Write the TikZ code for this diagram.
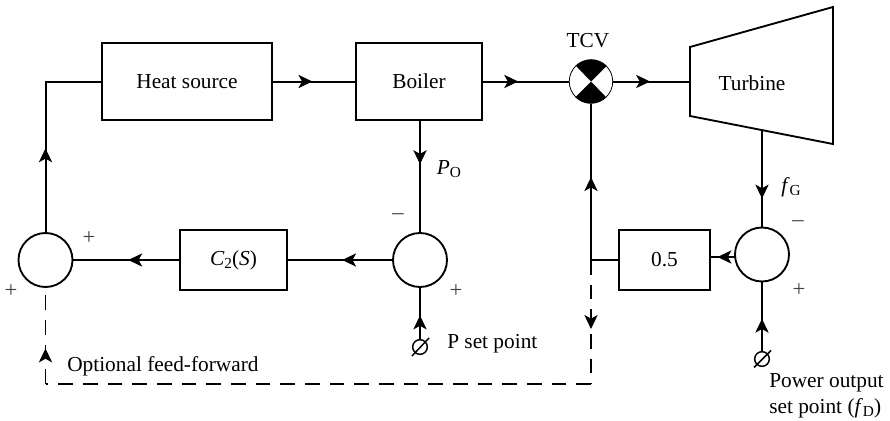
\documentclass[tikz,border=0pt]{standalone}
\usepackage{fontspec}
\setmainfont{Liberation Serif}
\usetikzlibrary{arrows.meta,decorations.markings}
\newcommand{\lowsub}[1]{\raisebox{-2.2pt}{\fontsize{11.5}{12}\selectfont #1}}
\tikzset{
  x=0.75pt,y=-0.75pt,
  every node/.style={font=\fontsize{16}{18}\selectfont},
  blockbox/.style={draw,line width=1.4pt,inner sep=0pt,anchor=center},
  sumcircle/.style={draw,circle,line width=1.4pt,minimum size=40.5pt,inner sep=0pt},
  wire/.style={line width=1.5pt},
  dashwire/.style={line width=1.4pt,dash pattern=on 11pt off 7.5pt},
  tipat/.style={postaction={decorate},decoration={markings,mark=at position #1 with {\arrow[line width=0.8pt]{Stealth[length=10.5pt,width=10pt,inset=2.8pt]}}}},
  signmark/.style={text=black!75,font=\fontsize{17}{18}\selectfont},
  setmark/.style={draw,circle,line width=1.1pt,minimum size=11pt,inner sep=0pt}
}
\begin{document}
\begin{tikzpicture}
\useasboundingbox (0,0) rectangle (890,421);
% blocks
\node[blockbox,minimum width=127.5pt,minimum height=57.5pt] (heat) at (187,81.5) {Heat source};
\node[blockbox,minimum width=94.5pt,minimum height=57.5pt] (boiler) at (419,81.5) {Boiler};
\node[blockbox,minimum width=80.5pt,minimum height=44.5pt] (c2) at (233.5,260) {\textit{C}\lowsub{2}(\textit{S})};
\node[blockbox,minimum width=68.5pt,minimum height=44.5pt] (gain) at (664.5,260) {0.5};
% summing junctions
\node[sumcircle] (sumL) at (45.5,260) {};
\node[sumcircle] (sumM) at (420,260) {};
\node[sumcircle] (sumR) at (762,254.5) {};
% valve
\node[draw,circle,line width=0.6pt,minimum size=32.6pt,inner sep=0pt] (tcv) at (591,81.5) {};
\fill (tcv.center) -- (tcv.45) arc[start angle=45,end angle=135,radius=16.3pt] -- cycle;
\fill (tcv.center) -- (tcv.225) arc[start angle=225,end angle=315,radius=16.3pt] -- cycle;
\node (tcvlabel) at (588,41) {TCV};
% turbine
\coordinate (tTL) at (690,47);
\coordinate (tBL) at (690,116);
\coordinate (tTR) at (833,7);
\coordinate (tBR) at (833,144);
\draw[line width=1.4pt,line join=miter] (tTL) -- (tTR) -- (tBR) -- (tBL) -- cycle;
\node (turbine) at (752,83) {Turbine};
\coordinate (turbIn) at (690,81.5);
\coordinate (turbOut) at (762,130);
% corners and junctions
\coordinate (heatCorner) at (45.5,81.5);
\coordinate (split) at (591,260);
\coordinate (dashR) at (591,384);
\coordinate (dashL) at (45.5,384);
\coordinate (gainIn) at (710,257);
\coordinate (sumOut) at (735,257);
% set points
\node[setmark] (spM) at (420,347) {};
\draw[line width=1.1pt] (412,356) -- (429,338);
\node[setmark] (spR) at (762,359) {};
\draw[line width=1.1pt] (754,367.5) -- (771,350.5);
% solid connectors
\draw[wire,tipat=0.48] (heat.east) -- (boiler.west);
\draw[wire,tipat=0.41] (boiler.east) -- (tcv.west);
\draw[wire,tipat=0.48] (tcv.east) -- (turbIn);
\draw[wire,tipat=0.39] (sumM.north |- boiler.south) -- (sumM.north);
\draw[wire,tipat=0.48] (sumM.west) -- (c2.east);
\draw[wire,tipat=0.48] (c2.west) -- (sumL.east);
\draw[wire,tipat=0.556] (sumL.north) -- (heatCorner);
\draw[wire,line cap=rect] (heatCorner) -- (heat.west);
\draw[wire,tipat=0.53] (split) -- (tcv.south);
\draw[wire] (gain.west) -- (split);
\draw[wire,tipat=0.71] (turbOut) -- (sumR.north);
\draw[wire,tipat=0.7] (sumOut) -- (gainIn);
\draw[wire,tipat=0.46] (spM.north) -- (sumM.south);
\draw[wire,tipat=0.47] (spR.north) -- (sumR.south);
% dashed connectors
\draw[dashwire,tipat=0.556] (split) -- (dashR);
\draw[dashwire] (dashR) -- (dashL);
\draw[dashwire,tipat=0.37] (dashL) -- (sumL.south);
% labels
\node (po) at (449,169) {\textit{P}\lowsub{O}};
\node (fg) at (791,187) {\textit{f}\lowsub{G}};
\node[anchor=west,inner sep=0pt] (opt) at (67,366) {Optional feed-forward};
\node[anchor=west,inner sep=0pt] (pset) at (447,344) {P set point};
\node[anchor=west,inner sep=0pt] (pow1) at (769,383) {Power output};
\node[anchor=west,inner sep=0pt] (pow2) at (769,408.5) {set point (\textit{f}\lowsub{D})};
\node[signmark] (s1) at (89,238) {+};
\node[signmark] (s2) at (11,291) {+};
\node[signmark] (s3) at (398,217) {–};
\node[signmark] (s4) at (456,291) {+};
\node[signmark] (s5) at (798,224) {–};
\node[signmark] (s6) at (799,290) {+};
\end{tikzpicture}
\end{document}
